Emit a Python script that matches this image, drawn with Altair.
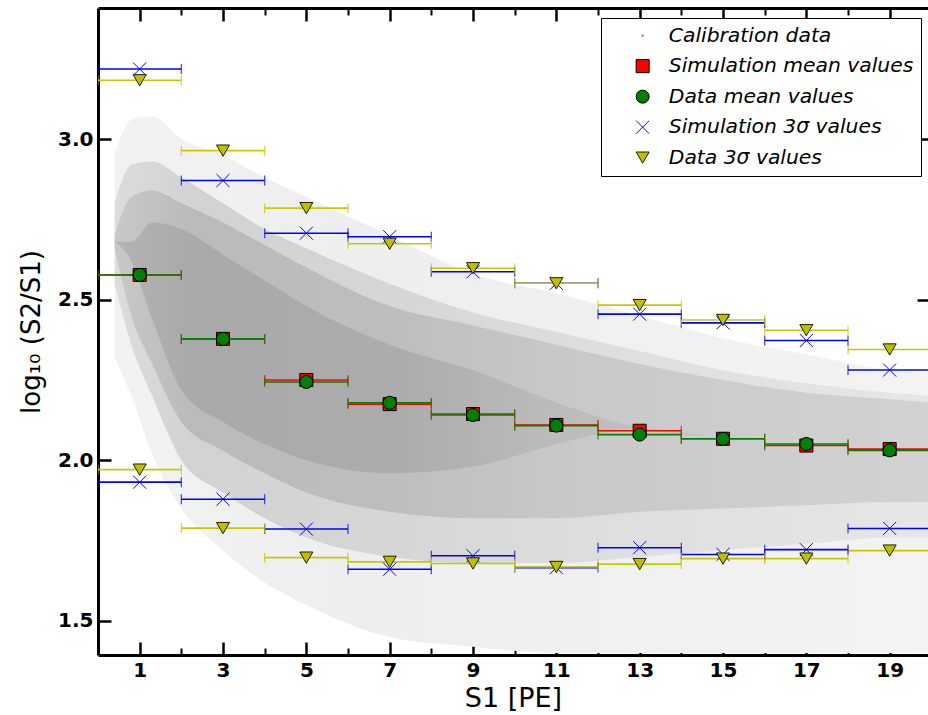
import altair as alt
import pandas as pd

# ---------------- data ----------------
bin_centers = [1, 3, 5, 7, 9, 11, 13, 15, 17, 19]
bin_half_width = 1.0

sim_mean = [2.577, 2.378, 2.250, 2.175, 2.144, 2.110, 2.092, 2.067, 2.046, 2.035]
data_mean = [2.577, 2.378, 2.244, 2.179, 2.141, 2.108, 2.080, 2.067, 2.051, 2.031]
sim_3s_up = [3.218, 2.871, 2.707, 2.696, 2.587, 2.551, 2.455, 2.428, 2.373, 2.281]
sim_3s_lo = [1.932, 1.879, 1.786, 1.661, 1.703, 1.666, 1.728, 1.707, 1.722, 1.788]
data_3s_up = [3.183, 2.964, 2.785, 2.674, 2.598, 2.551, 2.483, 2.437, 2.405, 2.345]
data_3s_lo = [1.971, 1.789, 1.697, 1.684, 1.679, 1.668, 1.677, 1.694, 1.694, 1.719]

# calibration cloud, described as density bands (lower / upper edge per S1 station)
cloud_x = [0.4, 0.8, 1.3, 2, 3, 4, 5, 7, 9, 11, 13, 15, 17, 19, 20]
sparse_lo = [2.32, 2.20, 2.02, 1.85, 1.72, 1.62, 1.55, 1.45, 1.42, 1.40, 1.40, 1.40, 1.40, 1.40, 1.40]
sparse_hi = [2.95, 3.06, 3.07, 3.00, 2.95, 2.88, 2.82, 2.70, 2.58, 2.52, 2.45, 2.38, 2.33, 2.28, 2.27]
medium_lo = [2.55, 2.36, 2.20, 2.00, 1.90, 1.82, 1.76, 1.70, 1.68, 1.68, 1.70, 1.72, 1.74, 1.76, 1.76]
medium_hi = [2.80, 2.92, 2.93, 2.88, 2.80, 2.72, 2.66, 2.55, 2.46, 2.40, 2.34, 2.28, 2.24, 2.21, 2.20]
dense_lo = [2.66, 2.45, 2.30, 2.12, 2.03, 1.96, 1.90, 1.84, 1.82, 1.82, 1.84, 1.85, 1.86, 1.87, 1.87]
dense_hi = [2.70, 2.82, 2.84, 2.80, 2.74, 2.67, 2.60, 2.48, 2.42, 2.36, 2.30, 2.25, 2.21, 2.19, 2.18]
core_lo = [2.68, 2.62, 2.44, 2.22, 2.12, 2.05, 2.00, 1.96, 1.98, 2.05, 2.10, 2.07, 2.05, 2.04, 2.04]
core_hi = [2.68, 2.68, 2.74, 2.72, 2.64, 2.56, 2.48, 2.36, 2.28, 2.18, 2.10, 2.07, 2.05, 2.04, 2.04]

x_major_ticks = [1, 3, 5, 7, 9, 11, 13, 15, 17, 19]
x_minor_ticks = [2, 4, 6, 8, 10, 12, 14, 16, 18]
y_ticks = [1.5, 2.0, 2.5, 3.0]

series_names = ["Calibration data", "Simulation mean values", "Data mean values",
                "Simulation 3σ values", "Data 3σ values"]
line_colors = ["#ff0000", "#008000", "#0000ff", "#c8c800"]
fill_colors = ["#a0a0a0", "#ff0000", "#008000", "#0000ff", "#bfbf00"]
stroke_colors = ["#a0a0a0", "#000000", "#000000", "#0000ff", "#202000"]
X_PATH = "M-1,-1L1,1M-1,1L1,-1"
DOT_PATH = "M-0.12,-0.12L0.12,-0.12L0.12,0.12L-0.12,0.12Z"
shapes = [DOT_PATH, "square", "circle", X_PATH, "triangle-down"]

# ---------------- tables ----------------
rows = []
for name, vals in [(series_names[1], sim_mean), (series_names[2], data_mean),
                   (series_names[3], sim_3s_up), (series_names[3], sim_3s_lo),
                   (series_names[4], data_3s_up), (series_names[4], data_3s_lo)]:
    for xc, v in zip(bin_centers, vals):
        rows.append({"x": xc, "xlo": xc - bin_half_width, "xhi": xc + bin_half_width,
                     "y": v, "series": name})
pts = pd.DataFrame(rows)
caps = pd.concat([pts.assign(cx=pts["xlo"]), pts.assign(cx=pts["xhi"])], ignore_index=True)

cloud = pd.DataFrame({"x": cloud_x, "s_lo": sparse_lo, "s_hi": sparse_hi,
                      "m_lo": medium_lo, "m_hi": medium_hi,
                      "d_lo": dense_lo, "d_hi": dense_hi,
                      "c_lo": core_lo, "c_hi": core_hi})

XS = alt.Scale(domain=[0, 19.92], nice=False, zero=False)
YS = alt.Scale(domain=[1.394, 3.408], nice=False, zero=False)
FONT = "DejaVu Sans"

line_scale = alt.Scale(domain=series_names[1:], range=line_colors)


def grad(stops):
    return alt.Gradient(gradient="linear", x1=0, x2=1, y1=0, y2=0,
                        stops=[alt.GradientStop(color=c, offset=o) for o, c in stops])


def band(lo, hi, stops):
    return alt.Chart(cloud).mark_area(color=grad(stops), interpolate="monotone", clip=True).encode(
        x=alt.X("x:Q", scale=XS, axis=None),
        y=alt.Y(f"{lo}:Q", scale=YS, axis=None),
        y2=f"{hi}:Q",
    )


bands = [
    band("s_lo", "s_hi", [(0, "#f2f2f2"), (0.3, "#eeeeee"), (1, "#f3f3f3")]),
    band("m_lo", "m_hi", [(0, "#dcdcdc"), (0.1, "#d2d2d2"), (0.35, "#d6d6d6"),
                          (0.6, "#dedede"), (1, "#e6e6e6")]),
    band("d_lo", "d_hi", [(0, "#c8c8c8"), (0.1, "#bababa"), (0.35, "#bebebe"),
                          (0.55, "#c8c8c8"), (1, "#d2d2d2")]),
    band("c_lo", "c_hi", [(0, "#b4b4b4"), (0.1, "#a9a9a9"), (0.35, "#acacac"),
                          (0.55, "#bcbcbc"), (1, "#c8c8c8")]),
]

rules = alt.Chart(pts).mark_rule(strokeWidth=1.6, clip=True).encode(
    x=alt.X("xlo:Q", scale=XS, axis=None),
    x2="xhi:Q",
    y=alt.Y("y:Q", scale=YS, axis=None),
    color=alt.Color("series:N", scale=line_scale, legend=None),
)

cap_marks = alt.Chart(caps).mark_tick(orient="vertical", size=10, thickness=1.3, clip=True).encode(
    x=alt.X("cx:Q", scale=XS, axis=None),
    y=alt.Y("y:Q", scale=YS, axis=None),
    color=alt.Color("series:N", scale=line_scale, legend=None),
)

legend = alt.Legend(title=None, orient="none", legendX=503, legendY=10, fillColor="white",
                    strokeColor="black", padding=7.5, rowPadding=9.5,
                    labelFont=FONT, labelFontSize=20.3, labelFontStyle="italic",
                    labelColor="black", symbolOffset=24, labelOffset=16,
                    symbolStrokeWidth=1, symbolSize=170, labelLimit=400)

markers = alt.Chart(pts).mark_point(size=170, strokeWidth=1, opacity=1, clip=True).encode(
    x=alt.X("x:Q", scale=XS, axis=None),
    y=alt.Y("y:Q", scale=YS, axis=None),
    fill=alt.Fill("series:N", scale=alt.Scale(domain=series_names, range=fill_colors), legend=legend),
    stroke=alt.Stroke("series:N", scale=alt.Scale(domain=series_names, range=stroke_colors), legend=legend),
    shape=alt.Shape("series:N", scale=alt.Scale(domain=series_names, range=shapes), legend=legend),
)

axis_common = dict(grid=False, labelFont=FONT, titleFont=FONT)


def xcarrier(axis):
    return alt.Chart(pts).mark_point(opacity=0).encode(x=alt.X("x:Q", scale=XS, axis=axis))


def ycarrier(axis):
    return alt.Chart(pts).mark_point(opacity=0).encode(y=alt.Y("y:Q", scale=YS, axis=axis))


def tick_axis(orient, values, size, width):
    return alt.Axis(orient=orient, values=values, offset=-size, tickSize=size,
                    tickWidth=width, tickColor="black", labels=False, domain=False,
                    title=None, grid=False)


x_main = xcarrier(alt.Axis(orient="bottom", values=x_major_ticks, format="d", tickSize=0,
                           domain=True, domainColor="black", domainWidth=3,
                           labelFontSize=20, labelFontWeight="bold", labelColor="black",
                           labelPadding=5, title="S1 [PE]", titleFontSize=27,
                           titleFontWeight="normal", titleColor="black", titlePadding=5,
                           **axis_common))
x_major_b = xcarrier(tick_axis("bottom", x_major_ticks, 13, 2.5))
x_minor_b = xcarrier(tick_axis("bottom", x_minor_ticks, 7, 2))
x_top = xcarrier(alt.Axis(orient="top", values=x_major_ticks, tickSize=0, labels=False,
                          domain=True, domainColor="black", domainWidth=3, title=None, grid=False))
x_major_t = xcarrier(tick_axis("top", x_major_ticks, 13, 2.5))
x_minor_t = xcarrier(tick_axis("top", x_minor_ticks, 7, 2))
y_main = ycarrier(alt.Axis(orient="left", values=y_ticks, format=".1f", tickSize=0,
                           domain=True, domainColor="black", domainWidth=3,
                           labelFontSize=20, labelFontWeight="bold", labelColor="black",
                           labelPadding=5, title="log₁₀ (S2/S1)", titleFontSize=26,
                           titleFontWeight="normal", titleColor="black", titlePadding=13,
                           **axis_common))
y_ticks_l = ycarrier(tick_axis("left", y_ticks, 13, 2.5))
y_ticks_r = ycarrier(tick_axis("right", y_ticks, 11, 2.5))

chart = alt.layer(
    *bands, rules, cap_marks, markers,
    x_main, x_major_b, x_minor_b, x_top, x_major_t, x_minor_t,
    y_main, y_ticks_l, y_ticks_r,
).resolve_axis(x="independent", y="independent").properties(
    width=830, height=647,
    autosize=alt.AutoSizeParams(type="none"),
    padding={"left": 98, "top": 8, "right": 0, "bottom": 60},
    background="white",
).configure_view(stroke=None)

chart.save("out.html", embed_options={"renderer": "svg", "actions": False})
